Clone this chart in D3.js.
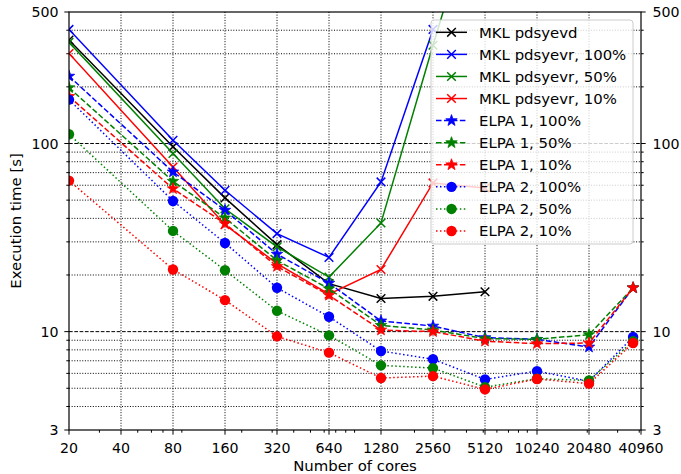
<!DOCTYPE html>
<html><head><meta charset="utf-8">
<script src="https://cdn.jsdelivr.net/npm/d3@7"></script>
<style>body{margin:0;background:#fff}svg{display:block}text{font-family:"DejaVu Sans",sans-serif;fill:#000}</style>
</head><body>
<script>
// ---- data ----
const cores = [20, 80, 160, 320, 640, 1280, 2560, 5120, 10240, 20480, 36864];
const xTicks = [20, 40, 80, 160, 320, 640, 1280, 2560, 5120, 10240, 20480, 40960];
const yTicks = [3, 10, 100, 500];
const mklPdsyevd    = [355, 96, 51.4, 29.0, 18.0, 15.0, 15.4, 16.3, null, null, null];
const mklPdsyevr100 = [404, 104, 56.4, 33.2, 24.8, 62.5, 404, null, null, null, null];
const mklPdsyevr50  = [345, 88.5, 45, 28.2, 19.5, 37.8, 333, 2700, null, null, null];
const mklPdsyevr10  = [301, 75, 37, 23, 15.8, 21.4, 61.7, 58, null, null, null];
const elpa1_100 = [228, 70.6, 44.2, 25.8, 18.1, 11.4, 10.7, 9.29, 9.1, 8.28, 17.1];
const elpa1_50  = [198, 63, 40.2, 23.9, 16.9, 10.8, 10.2, 9.18, 9.1, 9.64, 17.1];
const elpa1_10  = [178, 57.5, 37.5, 22.2, 15.6, 10.2, 10.0, 8.9, 8.63, 8.7, 17.1];
const elpa2_100 = [171, 49.5, 29.6, 17.1, 12.0, 7.89, 7.13, 5.57, 6.17, 5.45, 9.36];
const elpa2_50  = [112, 34.3, 21.2, 12.9, 9.55, 6.62, 6.4, 5.07, 5.62, 5.5, 8.9];
const elpa2_10  = [63.5, 21.4, 14.7, 9.44, 7.73, 5.67, 5.8, 4.93, 5.6, 5.29, 8.7];

const series = [
  {name: "MKL pdsyevd", values: mklPdsyevd, color: "#000000", dash: null, marker: "x"},
  {name: "MKL pdsyevr, 100%", values: mklPdsyevr100, color: "#0000ff", dash: null, marker: "x"},
  {name: "MKL pdsyevr, 50%", values: mklPdsyevr50, color: "#008000", dash: null, marker: "x"},
  {name: "MKL pdsyevr, 10%", values: mklPdsyevr10, color: "#ff0000", dash: null, marker: "x"},
  {name: "ELPA 1, 100%", values: elpa1_100, color: "#0000ff", dash: "5.55,2.4", marker: "star"},
  {name: "ELPA 1, 50%", values: elpa1_50, color: "#008000", dash: "5.55,2.4", marker: "star"},
  {name: "ELPA 1, 10%", values: elpa1_10, color: "#ff0000", dash: "5.55,2.4", marker: "star"},
  {name: "ELPA 2, 100%", values: elpa2_100, color: "#0000ff", dash: "1.5,2.47", marker: "circle"},
  {name: "ELPA 2, 50%", values: elpa2_50, color: "#008000", dash: "1.5,2.47", marker: "circle"},
  {name: "ELPA 2, 10%", values: elpa2_10, color: "#ff0000", dash: "1.5,2.47", marker: "circle"}
];

// ---- layout ----
const W = 681, H = 474;
const L = 69, R = 641, T = 12, B = 430;
const x = d3.scaleLog().domain([20, 40960]).range([L, R]);
const y = d3.scaleLog().domain([3, 500]).range([B, T]);

const svg = d3.select("body").append("svg").attr("width", W).attr("height", H);
svg.append("defs").append("clipPath").attr("id", "clip")
  .append("rect").attr("x", L).attr("y", T).attr("width", R - L).attr("height", B - T);

// minor ticks
const yMinor = [];
[1, 10, 100].forEach(p => { for (let k = 2; k <= 9; k++) { const v = k * p; if (v > 3 && v < 500 && !yTicks.includes(v)) yMinor.push(v); } });
const xMinor = [];
[10, 100, 1000, 10000].forEach(p => { for (let k = 2; k <= 9; k++) { const v = k * p; if (v > 20 && v < 40960 && !xTicks.includes(v)) xMinor.push(v); } });

// grid
const grid = svg.append("g");
grid.selectAll(".gx").data(xTicks.slice(1, -1)).join("line")
  .attr("x1", d => x(d)).attr("x2", d => x(d)).attr("y1", T).attr("y2", B)
  .attr("stroke", "#000").attr("stroke-width", 1).attr("stroke-dasharray", "1,1.65");
grid.selectAll(".gy").data(yMinor).join("line")
  .attr("x1", L).attr("x2", R).attr("y1", d => y(d)).attr("y2", d => y(d))
  .attr("stroke", "#000").attr("stroke-width", 1).attr("stroke-dasharray", "1,1.65");
grid.selectAll(".gY").data([10, 100]).join("line")
  .attr("x1", L).attr("x2", R).attr("y1", d => y(d)).attr("y2", d => y(d))
  .attr("stroke", "#000").attr("stroke-width", 1).attr("stroke-dasharray", "3.7,1.6");

// data
function starPath(ro, ri) {
  let p = "";
  for (let i = 0; i < 10; i++) {
    const r = i % 2 ? ri : ro, a = -Math.PI / 2 + i * Math.PI / 5;
    p += (i ? "L" : "M") + (r * Math.cos(a)).toFixed(2) + "," + (r * Math.sin(a)).toFixed(2);
  }
  return p + "Z";
}
function drawMarker(g, type, color) {
  if (type === "x") {
    g.append("path").attr("d", "M-4.3,-4.3L4.3,4.3M-4.3,4.3L4.3,-4.3")
      .attr("stroke", color).attr("stroke-width", 1.5).attr("fill", "none");
  } else if (type === "star") {
    g.append("path").attr("d", starPath(6, 2.4)).attr("fill", color).attr("stroke", color).attr("stroke-width", 0.8);
  } else {
    g.append("circle").attr("r", 5.2).attr("fill", color);
  }
}

const plot = svg.append("g").attr("clip-path", "url(#clip)");
const line = d3.line().defined(d => d.v != null).x(d => x(d.c)).y(d => y(d.v));
series.forEach(s => {
  const pts = cores.map((c, i) => ({c, v: s.values[i]}));
  const g = plot.append("g");
  g.append("path").attr("d", line(pts)).attr("fill", "none")
    .attr("stroke", s.color).attr("stroke-width", 1.5)
    .attr("stroke-dasharray", s.dash);
  pts.filter(d => d.v != null).forEach(d => {
    drawMarker(g.append("g").attr("transform", `translate(${x(d.c)},${y(d.v)})`), s.marker, s.color);
  });
});

// frame
svg.append("rect").attr("x", L).attr("y", T).attr("width", R - L).attr("height", B - T)
  .attr("fill", "none").attr("stroke", "#000").attr("stroke-width", 1.2);

// ticks
const ax = svg.append("g").attr("stroke", "#000").attr("stroke-width", 1);
xTicks.forEach(d => ax.append("line").attr("x1", x(d)).attr("x2", x(d)).attr("y1", B).attr("y2", B + 4.7));
xMinor.forEach(d => ax.append("line").attr("x1", x(d)).attr("x2", x(d)).attr("y1", B).attr("y2", B + 2.7));
yTicks.forEach(d => {
  ax.append("line").attr("x1", L - 4.7).attr("x2", L).attr("y1", y(d)).attr("y2", y(d));
  ax.append("line").attr("x1", R).attr("x2", R + 4.7).attr("y1", y(d)).attr("y2", y(d));
});
yMinor.forEach(d => {
  ax.append("line").attr("x1", L - 2.7).attr("x2", L).attr("y1", y(d)).attr("y2", y(d));
  ax.append("line").attr("x1", R).attr("x2", R + 2.7).attr("y1", y(d)).attr("y2", y(d));
});

// tick labels
const fs = "14.2px";
svg.selectAll(".xl").data(xTicks).join("text")
  .attr("x", d => x(d)).attr("y", 452.5).attr("text-anchor", "middle").style("font-size", fs).text(d => d);
svg.selectAll(".yl").data(yTicks).join("text")
  .attr("x", 58.5).attr("y", d => y(d) + 5.2).attr("text-anchor", "end").style("font-size", fs).text(d => d);
svg.selectAll(".yr").data(yTicks).join("text")
  .attr("x", 652.5).attr("y", d => y(d) + 5.2).attr("text-anchor", "start").style("font-size", fs).text(d => d);

// axis labels
svg.append("text").attr("x", (L + R) / 2).attr("y", 471).attr("text-anchor", "middle")
  .style("font-size", "14.9px").text("Number of cores");
svg.append("text").attr("transform", `translate(21,${(T + B) / 2}) rotate(-90)`).attr("text-anchor", "middle")
  .style("font-size", "14.9px").text("Execution time [s]");

// legend
const lg = svg.append("g");
lg.append("rect").attr("x", 431).attr("y", 20).attr("width", 202).attr("height", 224).attr("rx", 3)
  .attr("fill", "#fff").attr("fill-opacity", 0.8).attr("stroke", "#cccccc").attr("stroke-width", 1);
series.forEach((s, i) => {
  const yy = 32.3 + i * 22.08;
  lg.append("line").attr("x1", 436).attr("x2", 467).attr("y1", yy).attr("y2", yy)
    .attr("stroke", s.color).attr("stroke-width", 1.5).attr("stroke-dasharray", s.dash);
  drawMarker(lg.append("g").attr("transform", `translate(451.5,${yy})`), s.marker, s.color);
  lg.append("text").attr("x", 479).attr("y", yy + 5.4).style("font-size", "14.9px").text(s.name);
});
</script>
</body></html>
